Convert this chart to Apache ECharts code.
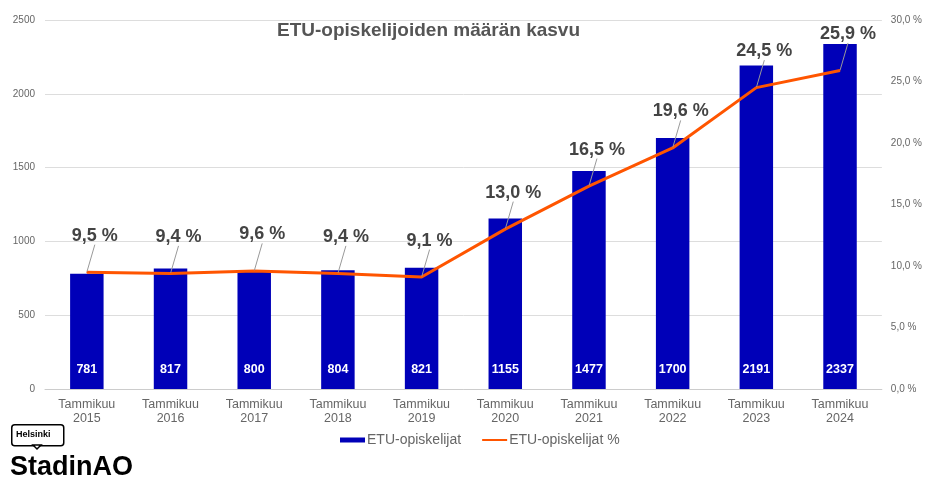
<!DOCTYPE html>
<html>
<head>
<meta charset="utf-8">
<script src="https://cdn.jsdelivr.net/npm/echarts@6/dist/echarts.min.js"></script>
<style>
  html, body { margin: 0; padding: 0; background: #fff; }
  #main { width: 925px; height: 480px; }
</style>
</head>
<body>
<div id="main"></div>
<script>
// vuodet (x-akseli)
const years = ['2015', '2016', '2017', '2018', '2019', '2020', '2021', '2022', '2023', '2024'];
// ETU-opiskelijoiden määrä
const students = [781, 817, 800, 804, 821, 1155, 1477, 1700, 2191, 2337];
// osuus kaikista opiskelijoista, %
const sharePct = [9.5, 9.4, 9.6, 9.4, 9.1, 13.0, 16.5, 19.6, 24.5, 25.9];

const FONT = 'Liberation Sans, Arial, sans-serif';

// suomalainen desimaalipilkku
function pct(v) {
  return v.toFixed(1).replace('.', ',') + ' %';
}

const chart = echarts.init(document.getElementById('main'));

chart.setOption({
  animation: false,
  textStyle: { fontFamily: FONT },
  title: {
    text: 'ETU-opiskelijoiden määrän kasvu',
    left: 272,
    top: 16,
    textStyle: { fontSize: 19, fontWeight: 'bold', color: '#555', fontFamily: FONT }
  },
  grid: { left: 45, right: 42, top: 20, bottom: 91 },
  legend: {
    left: 335,
    top: 428,
    itemWidth: 25,
    itemHeight: 5,
    itemGap: 20,
    textStyle: { color: '#666', fontSize: 14, fontFamily: FONT, padding: [0, 0, 0, -3] },
    data: [
      { name: 'ETU-opiskelijat', icon: 'rect' },
      { name: 'ETU-opiskelijat %', itemStyle: { opacity: 0 } }
    ]
  },
  xAxis: {
    type: 'category',
    data: years,
    axisTick: { show: false },
    axisLine: { lineStyle: { color: '#ccc' } },
    axisLabel: {
      color: '#666',
      fontSize: 12.5,
      lineHeight: 14,
      margin: 9,
      formatter: y => 'Tammikuu\n' + y
    }
  },
  yAxis: [
    {
      type: 'value',
      min: 0,
      max: 2500,
      interval: 500,
      axisLabel: { color: '#666', fontSize: 10, margin: 10, formatter: v => String(v) },
      splitLine: { lineStyle: { color: '#ddd' } }
    },
    {
      type: 'value',
      min: 0,
      max: 30,
      interval: 5,
      axisLabel: { color: '#666', fontSize: 10, margin: 9, formatter: pct },
      splitLine: { show: false }
    }
  ],
  series: [
    {
      name: 'ETU-opiskelijat',
      type: 'bar',
      data: students,
      barWidth: '40%',
      itemStyle: { color: '#0000b8' },
      label: {
        show: true,
        position: 'insideBottom',
        distance: 13,
        color: '#fff',
        fontWeight: 'bold',
        fontSize: 12.5
      }
    },
    {
      name: 'ETU-opiskelijat %',
      type: 'line',
      yAxisIndex: 1,
      data: sharePct,
      symbol: 'circle',
      symbolSize: 1,
      showSymbol: true,
      lineStyle: { color: '#ff5500', width: 3 },
      itemStyle: { color: '#ff5500' },
      z: 5,
      label: {
        show: true,
        position: 'top',
        distance: 4,
        color: '#444',
        fontSize: 18,
        fontWeight: 'bold',
        formatter: p => pct(p.value)
      },
      labelLayout: { dx: 8, dy: -23 },
      labelLine: { show: true, lineStyle: { color: '#999', width: 1 } }
    }
  ],
  graphic: [
    // Helsinki-logo laatikko
    {
      type: 'rect',
      left: 11,
      top: 424,
      shape: { width: 52, height: 21, r: 3 },
      style: { fill: '#fff', stroke: '#000', lineWidth: 1.5 }
    },
    {
      type: 'polygon',
      shape: { points: [[33, 445], [37, 449], [41, 445]] },
      style: { fill: '#fff', stroke: '#000', lineWidth: 1.5 }
    },
    {
      type: 'text',
      left: 16,
      top: 430,
      style: { text: 'Helsinki', fontSize: 9, fontWeight: 'bold', fill: '#000', fontFamily: FONT }
    },
    {
      type: 'text',
      left: 10,
      top: 454,
      style: { text: 'StadinAO', fontSize: 27, fontWeight: 'bold', fill: '#000', fontFamily: FONT }
    }
  ]
});
</script>
</body>
</html>
